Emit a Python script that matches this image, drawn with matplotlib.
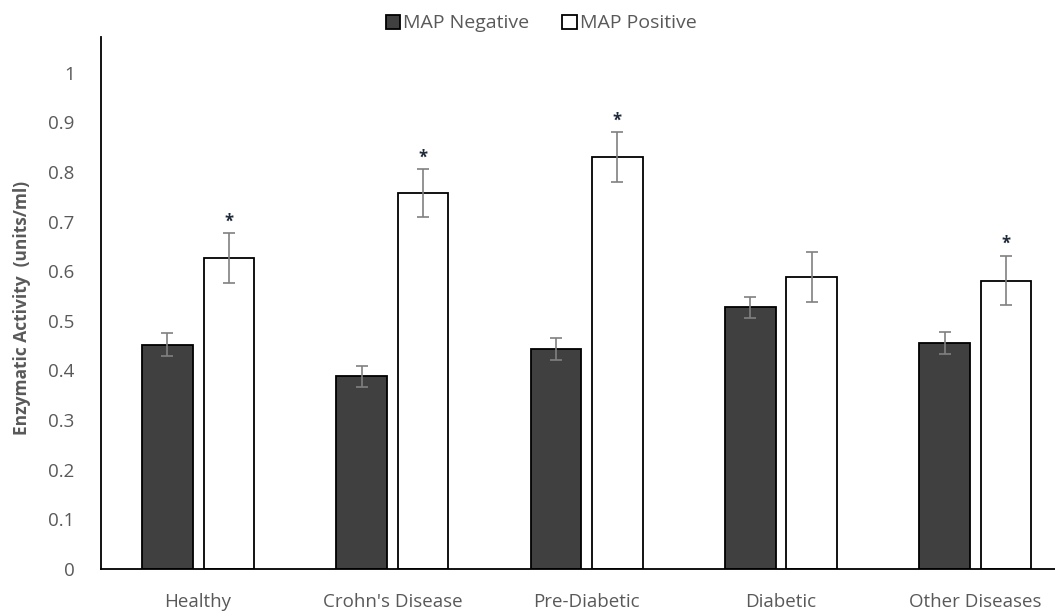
import matplotlib
matplotlib.use("Agg")
import matplotlib.pyplot as plt
import numpy as np

plt.rcParams['font.family'] = ['Open Sans', 'DejaVu Sans']

# data
groups = ["Healthy", "Crohn's Disease", "Pre-Diabetic", "Diabetic", "Other Diseases"]
neg_vals = [0.452, 0.388, 0.444, 0.527, 0.455]
neg_err = [0.023, 0.022, 0.022, 0.022, 0.022]
pos_vals = [0.627, 0.757, 0.830, 0.588, 0.581]
pos_err = [0.050, 0.048, 0.050, 0.050, 0.050]
signif = [True, True, True, False, True]

grey = '#595959'
x = np.arange(len(groups))
w = 0.26
off = 0.158

fig = plt.figure(figsize=(10.55, 6.16), dpi=100)
ax = fig.add_axes([0.0957, 0.0763, 0.9043, 0.8637])

ax.bar(x - off, neg_vals, w, color='#404040', edgecolor='black', linewidth=1.3,
       label='MAP Negative', zorder=2)
ax.bar(x + off, pos_vals, w, color='white', edgecolor='black', linewidth=1.3,
       label='MAP Positive', zorder=2)
ax.errorbar(x - off, neg_vals, yerr=neg_err, fmt='none', ecolor='#808080',
            elinewidth=1.2, capsize=4.3, capthick=1.2, zorder=3)
ax.errorbar(x + off, pos_vals, yerr=pos_err, fmt='none', ecolor='#808080',
            elinewidth=1.2, capsize=4.3, capthick=1.2, zorder=3)

# significance stars
for i in range(len(groups)):
    if signif[i]:
        ax.annotate('*', (x[i] + off, pos_vals[i] + pos_err[i]), xytext=(0, 2),
                    textcoords='offset points', ha='center', va='bottom',
                    fontsize=12, fontweight='bold', color='#1f2a3a')

ax.set_xlim(-0.5, 4.41)
ax.set_ylim(0, 1.072)
ax.set_yticks(np.arange(0, 1.01, 0.1))
ax.set_yticklabels(['0', '0.1', '0.2', '0.3', '0.4', '0.5', '0.6', '0.7', '0.8', '0.9', '1'])
ax.set_xticks(x)
ax.set_xticklabels(groups)
ax.tick_params(axis='both', length=0, labelsize=13.5, colors=grey)
ax.tick_params(axis='x', pad=17)
ax.tick_params(axis='y', pad=19)

for s in ['top', 'right']:
    ax.spines[s].set_visible(False)
ax.spines['left'].set_color('black')
ax.spines['bottom'].set_color('black')
ax.spines['left'].set_linewidth(1.3)
ax.spines['bottom'].set_linewidth(1.3)

ax.set_ylabel('Enzymatic Activity  (units/ml)', fontsize=12.5, fontweight='bold',
              color=grey)
ax.yaxis.set_label_coords(-0.073, 0.49)

leg = fig.legend(loc='upper center', bbox_to_anchor=(0.513, 1.005), ncol=2, frameon=False,
                 fontsize=14, handlelength=0.75, handleheight=0.75, handletextpad=0.15,
                 columnspacing=1.7)
for t in leg.get_texts():
    t.set_color(grey)

fig.savefig('out.png', dpi=100)
